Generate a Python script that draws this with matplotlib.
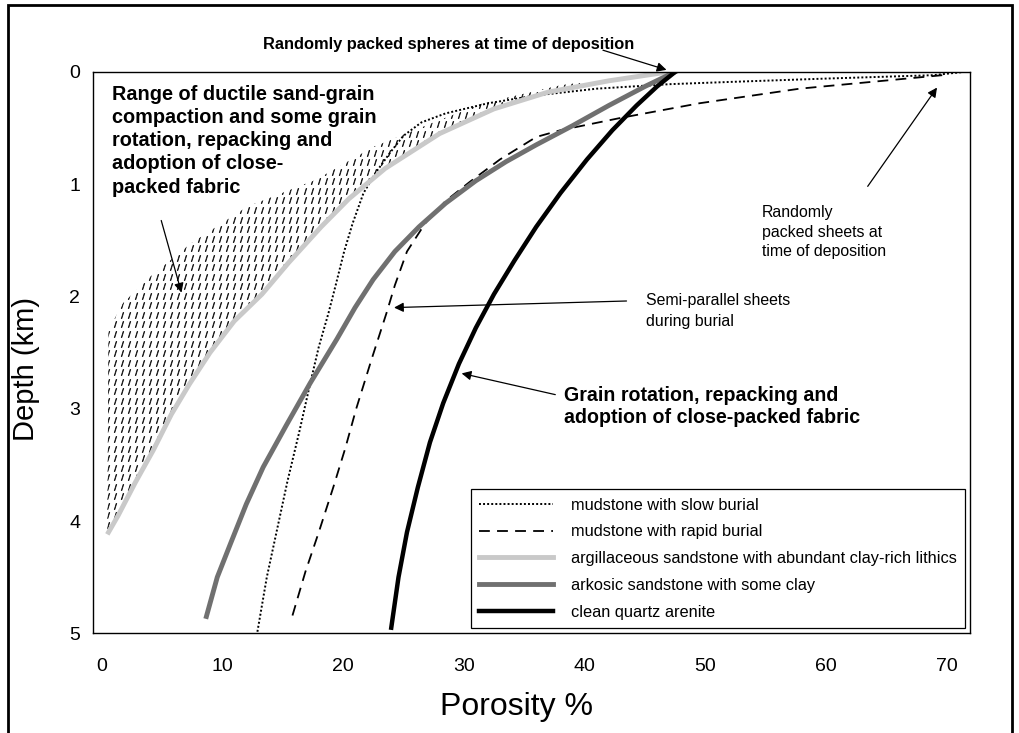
import numpy as np
import matplotlib
matplotlib.use("Agg")
import matplotlib.pyplot as plt
from matplotlib.patches import Polygon, Rectangle

plt.rcParams['font.family'] = ['Liberation Sans', 'DejaVu Sans']

# curves: porosity (%) vs depth (km)
slow_por = [71.5, 68.8, 60, 52, 47, 41, 36, 32, 28.5, 26.5, 25, 23.9, 22.7, 21.7, 20.8, 20.1, 19.4, 18.8, 18.0, 17.3, 16.4, 15.4, 14.5, 13.7, 12.9]
slow_dep = [0.0, 0.03, 0.06, 0.09, 0.11, 0.15, 0.21, 0.28, 0.37, 0.45, 0.57, 0.72, 0.9, 1.08, 1.35, 1.6, 1.9, 2.15, 2.45, 2.77, 3.2, 3.65, 4.1, 4.5, 5.0]

rapid_por = [69.6, 57.8, 49.5, 43, 38, 36, 33, 30.5, 28.5, 26.8, 25.3, 24.3, 23.6, 22.4, 21.1, 20.2, 19.2, 18.0, 16.9, 15.8]
rapid_dep = [0.03, 0.15, 0.28, 0.41, 0.52, 0.58, 0.78, 0.98, 1.15, 1.35, 1.6, 1.9, 2.15, 2.55, 3.0, 3.35, 3.7, 4.1, 4.45, 4.85]

argil_por = [47, 42, 37, 32.5, 28, 23.5, 20.5, 18.2, 15.5, 13.3, 11, 9, 7.3, 5.8, 4.3, 2.8, 1.4, 0.6]
argil_dep = [0.0, 0.08, 0.18, 0.33, 0.55, 0.86, 1.13, 1.38, 1.7, 1.98, 2.22, 2.5, 2.78, 3.05, 3.37, 3.66, 3.95, 4.1]

ark_por = [47.5, 45, 42, 39, 36, 33.5, 31, 28.5, 26.3, 24.3, 22.5, 21, 19.5, 17.3, 15.3, 13.4, 12, 10.7, 9.6, 8.7]
ark_dep = [0.0, 0.13, 0.3, 0.48, 0.65, 0.8, 0.97, 1.17, 1.38, 1.6, 1.85, 2.1, 2.38, 2.77, 3.15, 3.52, 3.85, 4.2, 4.5, 4.85]

qtz_por = [47.5, 46, 44.3, 42.3, 40.2, 38, 36, 34.2, 32.5, 31, 29.6, 28.3, 27.2, 26.2, 25.3, 24.6, 24.0]
qtz_dep = [0.0, 0.13, 0.3, 0.52, 0.78, 1.08, 1.38, 1.68, 1.98, 2.28, 2.6, 2.95, 3.3, 3.7, 4.1, 4.5, 4.95]

# left edge of the hatched (ductile compaction) range
range_left_por = [45, 38, 31.6, 28, 22.5, 17.8, 12.1, 7.4, 4.0, 1.8, 0.6, 0.5]
range_left_dep = [0.02, 0.12, 0.28, 0.43, 0.67, 0.96, 1.2, 1.53, 1.83, 2.06, 2.3, 4.1]

labels = ['mudstone with slow burial', 'mudstone with rapid burial',
          'argillaceous sandstone with abundant clay-rich lithics',
          'arkosic sandstone with some clay', 'clean quartz arenite']

fig = plt.figure(figsize=(10.2, 7.33), dpi=100)
ax = fig.add_axes([0.091, 0.136, 0.86, 0.766])

# hatched range, drawn as rows of short slashes clipped to the polygon
poly = Polygon(list(zip(range_left_por, range_left_dep)) +
               list(zip(argil_por[::-1], argil_dep[::-1])),
               closed=True, facecolor='none', edgecolor='none')
ax.add_patch(poly)
gx, gy = np.meshgrid(np.arange(0, 48, 0.58), np.arange(0.04, 4.2, 0.085))
hatch = ax.plot(gx.ravel(), gy.ravel(), ls='none', marker='$/$',
                markersize=4.5, color='#222222', markeredgewidth=0.5)[0]
hatch.set_clip_path(poly)

ax.plot(slow_por, slow_dep, color='black', ls=(0, (1, 1.1)), lw=1.4, label=labels[0])
ax.plot(rapid_por, rapid_dep, color='black', ls=(0, (6, 4)), lw=1.3, label=labels[1])
ax.plot(argil_por, argil_dep, color='#c9c9c9', lw=3.5, label=labels[2])
ax.plot(ark_por, ark_dep, color='#707070', lw=3.5, label=labels[3])
ax.plot(qtz_por, qtz_dep, color='black', lw=3.2, label=labels[4])

ax.set_xlim(-0.7, 71.9)
ax.set_ylim(5, 0)
ax.set_xticks(range(0, 71, 10))
ax.set_yticks(range(0, 6))
ax.tick_params(length=0, labelsize=14)
ax.tick_params(axis='x', pad=18)
ax.tick_params(axis='y', pad=9)
ax.set_xlabel('Porosity %', fontsize=23)
ax.xaxis.set_label_coords(0.483, -0.104)
ax.set_ylabel('Depth (km)', fontsize=21)
ax.yaxis.set_label_coords(-0.06, 0.47)
for s in ax.spines.values():
    s.set_linewidth(1.0)

leg = ax.legend(loc='lower right', fontsize=11.8, handlelength=4.5, handletextpad=1.1,
                borderaxespad=0.33, fancybox=False, edgecolor='black',
                labelspacing=0.72, framealpha=1, borderpad=0.5)
leg.get_frame().set_linewidth(0.9)

arrow = dict(arrowstyle='-|>', color='black', lw=0.9, mutation_scale=14)

ax.text(13.4, -0.24, 'Randomly packed spheres at time of deposition',
        fontsize=11.8, fontweight='bold', va='center', clip_on=False)
ax.annotate('', xy=(47.0, -0.01), xytext=(41.3, -0.2), arrowprops=arrow,
            annotation_clip=False)

ax.text(0.9, 0.115, 'Range of ductile sand-grain\ncompaction and some grain\n'
        'rotation, repacking and\nadoption of close-\npacked fabric',
        fontsize=14.3, fontweight='bold', va='top', linespacing=1.28)
ax.annotate('', xy=(6.7, 1.99), xytext=(4.9, 1.3), arrowprops=arrow)

ax.text(54.7, 1.19, 'Randomly\npacked sheets at\ntime of deposition',
        fontsize=11.4, va='top', linespacing=1.36)
ax.annotate('', xy=(69.3, 0.12), xytext=(63.3, 1.04), arrowprops=arrow)

ax.text(45.1, 2.13, 'Semi-parallel sheets\nduring burial',
        fontsize=11.4, va='center', linespacing=1.5)
ax.annotate('', xy=(24.0, 2.1), xytext=(43.7, 2.04), arrowprops=arrow)

ax.text(38.3, 2.98, 'Grain rotation, repacking and\nadoption of close-packed fabric',
        fontsize=14.1, fontweight='bold', va='center', linespacing=1.26)
ax.annotate('', xy=(29.6, 2.68), xytext=(37.8, 2.88), arrowprops=arrow)

# outer frame of the figure
fig.add_artist(Rectangle((0.008, -0.01), 0.984, 1.003, transform=fig.transFigure,
                         fill=False, edgecolor='black', lw=2))

fig.savefig('out.png', dpi=100)
